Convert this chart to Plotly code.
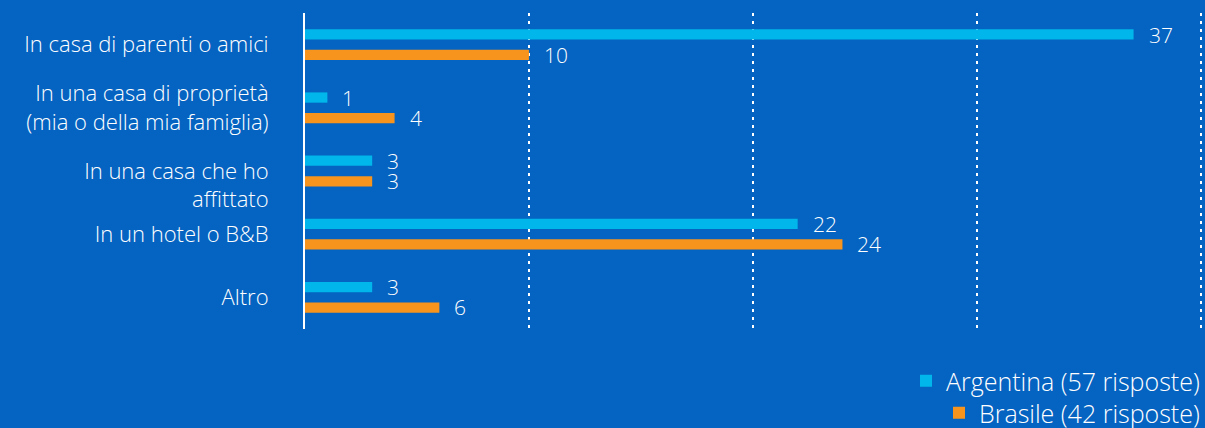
import plotly.graph_objects as go

categories = [
    "In casa di parenti o amici",
    "In una casa di proprietà<br>(mia o della mia famiglia)",
    "<br>In una casa che ho<br>affittato",
    "In un hotel o B&B",
    "Altro",
]
argentina = [37, 1, 3, 22, 3]
brasile = [10, 4, 3, 24, 6]
series_names = ["Argentina (57 risposte)", "Brasile (42 risposte)"]

BG = "#0563c1"
CYAN = "#00b6ea"
ORANGE = "#f7941d"
LABEL_FONT = "Open Sans"

fig = go.Figure()
fig.add_trace(go.Bar(y=categories, x=argentina, orientation="h", name=series_names[0],
                     marker=dict(color=CYAN, line=dict(width=0)), legend="legend"))
fig.add_trace(go.Bar(y=categories, x=brasile, orientation="h", name=series_names[1],
                     marker=dict(color=ORANGE, line=dict(width=0)), legend="legend2"))

annotations = []
for vals, shift in ((argentina, 10), (brasile, -10)):
    for cat, v in zip(categories, vals):
        annotations.append(dict(x=v, y=cat, xref="x", yref="y", text=str(v), showarrow=False,
                                xanchor="left", yanchor="middle", xshift=13, yshift=shift,
                                font=dict(family=LABEL_FONT, size=21, color="white", weight=300)))

TOP, BOTTOM = 13, 99
PLOT_H = 428 - TOP - BOTTOM
PLOT_W = 898
legend_font = dict(family="Open Sans", size=25, color="white", weight=300)
fig.update_layout(
    width=1205, height=428,
    paper_bgcolor=BG, plot_bgcolor=BG,
    margin=dict(l=305, r=2, t=TOP, b=BOTTOM, autoexpand=False),
    barmode="group", bargap=0.35, bargroupgap=0.5,
    font=dict(family=LABEL_FONT, color="white", size=20),
    annotations=annotations,
    xaxis=dict(range=[0, 40.1], dtick=10, showgrid=True, gridcolor="white", gridwidth=2,
               griddash="3px,5px", zeroline=False, showticklabels=False, fixedrange=True),
    yaxis=dict(autorange="reversed", showline=True, linecolor="white", linewidth=2,
               showgrid=False, ticks="", ticklabelstandoff=30, automargin=False,
               tickfont=dict(family=LABEL_FONT, size=22, color="white", weight=300)),
    legend=dict(x=1.0 + 2 / PLOT_W, xanchor="right", y=(428 - BOTTOM - 381) / PLOT_H,
                yanchor="middle", bgcolor="rgba(0,0,0,0)", font=legend_font),
    legend2=dict(x=1.0 + 2 / PLOT_W, xanchor="right", y=(428 - BOTTOM - 413) / PLOT_H,
                 yanchor="middle", bgcolor="rgba(0,0,0,0)", font=legend_font),
    showlegend=True,
)

fig.write_html("out.html", config={"displayModeBar": False},
               post_script="document.body.style.margin='0';document.body.style.overflow='hidden';")
